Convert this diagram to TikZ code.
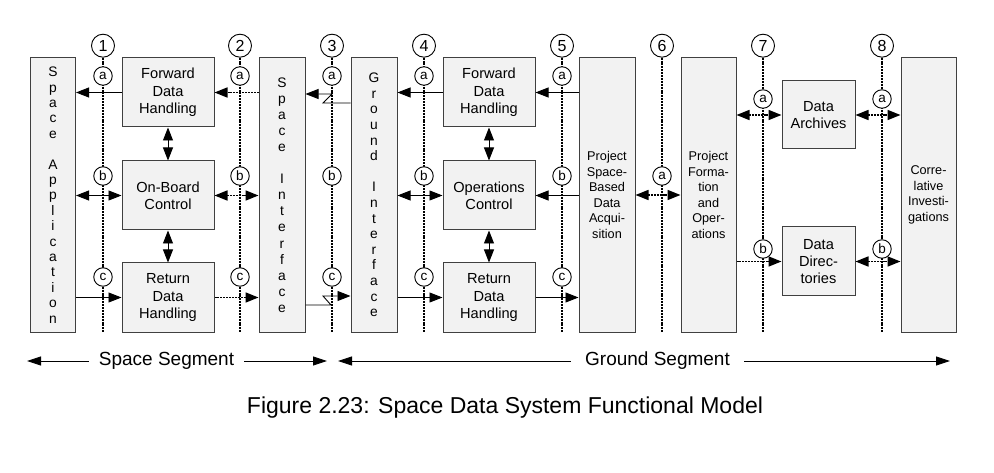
\documentclass[tikz,border=0pt]{standalone}
\usepackage{fontspec}
\setmainfont{Liberation Sans}
\usetikzlibrary{arrows.meta}
\begin{document}
\begin{tikzpicture}[x=1pt,y=-1pt,
  >={Triangle[length=13pt,width=10pt]},
  box/.style={draw=black!75, fill=black!5, line width=1pt, inner sep=0pt, align=center},
  sbox/.style={box, minimum width=92pt, minimum height=69pt, font=\fontsize{14.6}{17.3}\selectfont},
  rbox/.style={box, minimum width=73pt, minimum height=68pt, font=\fontsize{14.6}{17.3}\selectfont},
  tall/.style={box, minimum height=274pt, font=\fontsize{12.7}{15.5}\selectfont},
  vtext/.style={box, minimum height=274pt, minimum width=45pt, font=\fontsize{13.8}{#1}\selectfont},
  num/.style={circle, draw=black, fill=white, line width=0.9pt, minimum size=23pt, inner sep=0pt, font=\fontsize{16}{16}\selectfont},
  sub/.style={circle, draw=black, fill=white, line width=0.9pt, minimum size=18.5pt, inner sep=0pt, font=\fontsize{13.5}{13.5}\selectfont},
  vline/.style={line width=1.9pt, black, dash pattern=on 2pt off 0.9pt},
  sol/.style={line width=0.9pt},
  dsh/.style={line width=1.7pt, dash pattern=on 2pt off 0.9pt},
  seg/.style={line width=0.9pt, -{Triangle[length=14pt,width=9pt]}},
  segtxt/.style={inner xsep=10pt, inner ysep=0pt, font=\fontsize{19}{19}\selectfont}
]
\useasboundingbox (0,0) rectangle (994,473);
\fill[white] (0,0) rectangle (994,473);

% boxes
\node[vtext=15.4] (SA) at (53,195) {S\\p\\a\\c\\e\\\mbox{}\\A\\p\\p\\l\\i\\c\\a\\t\\i\\o\\n};
\node[sbox] (FDH1) at (168,92.5) {Forward\\Data\\Handling};
\node[sbox] (OBC) at (168,195.5) {On-Board\\Control};
\node[sbox] (RDH1) at (168,297.5) {Return\\Data\\Handling};
\node[vtext=16.1, minimum width=46pt] (SI) at (282,195) {S\\p\\a\\c\\e\\\mbox{}\\I\\n\\t\\e\\r\\f\\a\\c\\e};
\node[vtext=15.6, minimum width=46pt] (GI) at (374,195) {G\\r\\o\\u\\n\\d\\\mbox{}\\I\\n\\t\\e\\r\\f\\a\\c\\e};
\node[sbox] (FDH2) at (489,92.5) {Forward\\Data\\Handling};
\node[sbox] (OC) at (489,195.5) {Operations\\Control};
\node[sbox] (RDH2) at (489,297.5) {Return\\Data\\Handling};
\node[tall, minimum width=56pt] (PS) at (607,195) {Project\\Space-\\Based\\Data\\Acqui-\\sition};
\node[tall, minimum width=55pt] (PFO) at (708.5,195) {Project\\Forma-\\tion\\and\\Oper-\\ations};
\node[rbox] (DA) at (818.5,115) {Data\\Archives};
\node[rbox, minimum height=69pt] (DD) at (818.5,261.5) {Data\\Direc-\\tories};
\node[tall, minimum width=55pt] (CI) at (928.5,195) {Corre-\\lative\\Investi-\\gations};

% numbered circles and vertical lines
\foreach \i/\x in {1/103,2/240,3/332,4/424,5/562,6/662,7/763,8/882}{
  \node[num] (n\i) at (\x,45.7) {\i};
  \coordinate (e\i) at (\x,333);
  \draw[vline] (n\i) -- (e\i);
}

% lettered circles
\foreach \i/\x in {1/103,2/240,3/332,4/424,5/562}{
  \node[sub] (a\i) at (\x,76) {a};
  \node[sub] (b\i) at (\x,176) {b};
  \node[sub] (c\i) at (\x,277) {c};
}
\node[sub] (a6) at (662,176) {a};
\node[sub] (a7) at (763,99) {a};
\node[sub] (b7) at (763,249) {b};
\node[sub] (a8) at (882,99) {a};
\node[sub] (b8) at (882,249) {b};

% interface 1
\draw[sol,->] (FDH1.west) -- (FDH1.west -| SA.east);
\draw[sol,<->] (OBC.west -| SA.east) -- (OBC.west);
\draw[sol,->] (RDH1.west -| SA.east) -- (RDH1.west);
% interface 2
\draw[dsh,->] (FDH1.east -| SI.west) -- (FDH1.east);
\draw[dsh,<->] (OBC.east) -- (OBC.east -| SI.west);
\draw[dsh,->] (RDH1.east) -- (RDH1.east -| SI.west);
% interface 3 (space link)
\coordinate (z1) at (323,103);
\coordinate (z2) at (332,94);
\coordinate (z3) at (331,305);
\coordinate (z4) at (323,296);
\draw[sol,->] (z1 -| GI.west) -- (z1) -- (z2) -- (z2 -| SI.east);
\draw[sol,->] (z3 -| SI.east) -- (z3) -- (z4) -- (z4 -| GI.west);
% interface 4
\draw[sol,->] (FDH2.west) -- (FDH2.west -| GI.east);
\draw[sol,<->] (OC.west -| GI.east) -- (OC.west);
\draw[sol,->] (RDH2.west -| GI.east) -- (RDH2.west);
% interface 5
\draw[sol,->] (FDH2.east -| PS.west) -- (FDH2.east);
\draw[sol,->] (OC.east -| PS.west) -- (OC.east);
\draw[sol,->] (RDH2.east) -- (RDH2.east -| PS.west);
% interface 6
\draw[dsh,<->] (PFO.west -| PS.east) -- (PFO.west);
% interface 7
\draw[dsh,<->] (DA.west -| PFO.east) -- (DA.west);
\draw[dsh,->] (DD.west -| PFO.east) -- (DD.west);
% interface 8
\draw[dsh,<->] (DA.east) -- (DA.east -| CI.west);
\draw[dsh,<->] (DD.east) -- (DD.east -| CI.west);

% vertical double arrows
\draw[sol,<->] (FDH1.south) -- (OBC.north);
\draw[sol,<->] (OBC.south) -- (RDH1.north);
\draw[sol,<->] (FDH2.south) -- (OC.north);
\draw[sol,<->] (OC.south) -- (RDH2.north);

% segments
\node[segtxt] (ss) at (166.5,361) {Space Segment};
\coordinate (ssl) at (27,361);
\coordinate (ssr) at (327,361);
\draw[seg] (ss.west) -- (ssl);
\draw[seg] (ss.east) -- (ssr);
\node[segtxt, inner xsep=14pt] (gs) at (657.5,361) {Ground Segment};
\coordinate (gsl) at (338,361);
\coordinate (gsr) at (950,361);
\draw[seg] (gs.west) -- (gsl);
\draw[seg] (gs.east) -- (gsr);

% caption
\node[font=\fontsize{23}{23}\selectfont] (cap) at (505,408) {Figure 2.23: Space Data System Functional Model};
\end{tikzpicture}
\end{document}
